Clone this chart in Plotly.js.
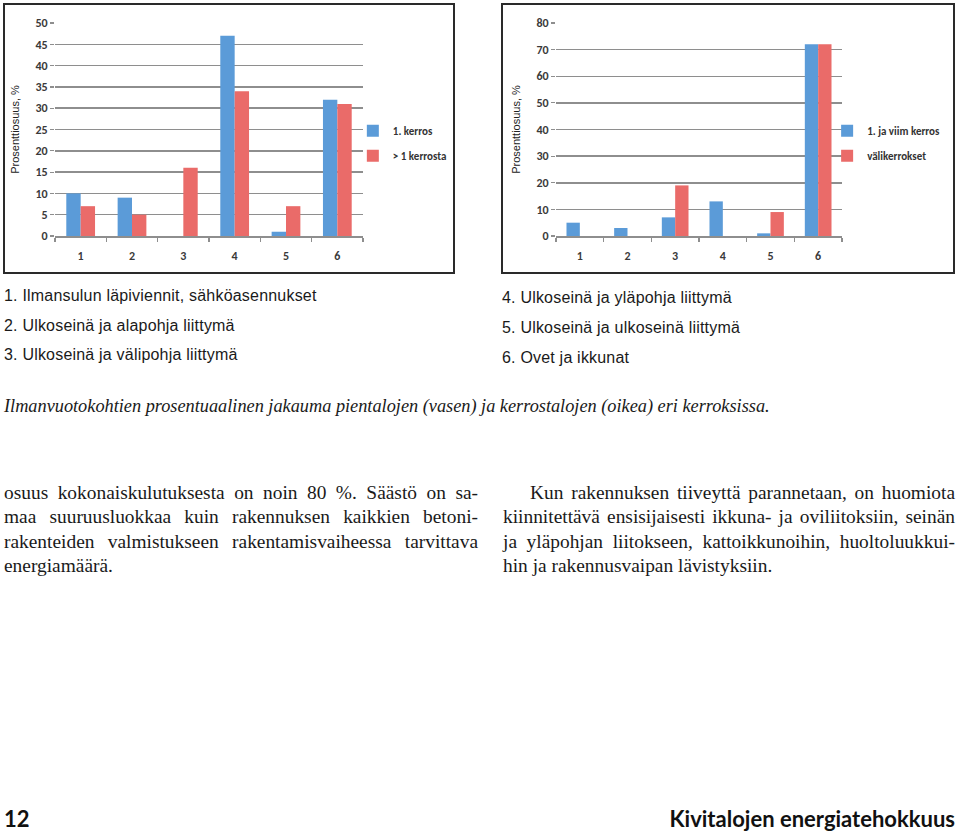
<!DOCTYPE html>
<html>
<head>
<meta charset="utf-8">
<script src="https://cdn.plot.ly/plotly-3.0.1.min.js"></script>
<style>
  html, body { margin: 0; padding: 0; background: #fff; }
  body { width: 960px; height: 833px; position: relative; overflow: hidden; }
  .frame { position: absolute; box-sizing: border-box; border: 2px solid #2a2a2a; background: #fff; overflow: hidden; }
  .plot { position: absolute; left: 0; top: 0; }
  .lst { position: absolute; font-family: "Liberation Sans", Arial, sans-serif; font-size: 16px; letter-spacing: 0.2px; color: #1a1a1a; white-space: nowrap; }
  .cap { position: absolute; left: 4px; top: 396px; font-family: "Liberation Serif", "DejaVu Serif", serif; font-style: italic; font-size: 18.3px; color: #1a1a1a; white-space: nowrap; }
  .col { position: absolute; line-height: 24.3px; }
  .col div { font-family: "Liberation Serif", "DejaVu Serif", serif !important; font-size: 19.4px; color: #1a1a1a; text-align: justify; text-align-last: justify; white-space: nowrap; }
  .col div.last { text-align-last: left; }
  .foot { position: absolute; top: 805px; font-family: Lato, "DejaVu Sans", sans-serif; font-weight: 700; font-size: 22px; color: #111; white-space: nowrap; }
</style>
</head>
<body>
<div class="frame" style="left:3px;top:3px;width:452px;height:271px;"><div id="c1" class="plot"></div></div>
<div class="frame" style="left:501px;top:3px;width:454px;height:271px;"><div id="c2" class="plot"></div></div>

<div class="lst" style="left:4px;top:287px;">1. Ilmansulun läpiviennit, sähköasennukset</div>
<div class="lst" style="left:4px;top:317px;">2. Ulkoseinä ja alapohja liittymä</div>
<div class="lst" style="left:4px;top:346px;">3. Ulkoseinä ja välipohja liittymä</div>
<div class="lst" style="left:502px;top:289px;">4. Ulkoseinä ja yläpohja liittymä</div>
<div class="lst" style="left:502px;top:319px;">5. Ulkoseinä ja ulkoseinä liittymä</div>
<div class="lst" style="left:502px;top:349px;">6. Ovet ja ikkunat</div>

<div class="cap">Ilmanvuotokohtien prosentuaalinen jakauma pientalojen (vasen) ja kerrostalojen (oikea) eri kerroksissa.</div>

<div class="col" style="left:4px;top:481px;width:474px;">
  <div>osuus kokonaiskulutuksesta on noin 80 %. Säästö on sa-</div>
  <div>maa suuruusluokkaa kuin rakennuksen kaikkien betoni-</div>
  <div>rakenteiden valmistukseen rakentamisvaiheessa tarvittava</div>
  <div class="last">energiamäärä.</div>
</div>
<div class="col" style="left:503px;top:481px;width:452px;">
  <div style="padding-left:27px;">Kun rakennuksen tiiveyttä parannetaan, on huomiota</div>
  <div>kiinnitettävä ensisijaisesti ikkuna- ja oviliitoksiin, seinän</div>
  <div>ja yläpohjan liitokseen, kattoikkunoihin, huoltoluukkui-</div>
  <div class="last">hin ja rakennusvaipan lävistyksiin.</div>
</div>

<div class="foot" style="left:4px;">12</div>
<div class="foot" style="right:5px;">Kivitalojen energiatehokkuus</div>

<script>
// ---- data ----
const categories = ["1", "2", "3", "4", "5", "6"];

const leftSeriesNames = ["1. kerros", "> 1 kerrosta"];
const leftFirstFloor = [10, 9, 0, 47, 1, 32];
const leftUpperFloors = [7, 5, 16, 34, 7, 31];
const leftTicks = [0, 5, 10, 15, 20, 25, 30, 35, 40, 45, 50];

const rightSeriesNames = ["1. ja viim kerros", "välikerrokset"];
const rightFirstLastFloor = [5, 3, 7, 13, 1, 72];
const rightMiddleFloors = [0, 0, 19, 0, 9, 72];
const rightTicks = [0, 10, 20, 30, 40, 50, 60, 70, 80];

const yTitle = "Prosenttiosuus, %";

// ---- styling ----
const BLUE = "#5b9bd8";
const RED = "#ea6b69";
const GRID = "#8e8e8e";
const tickFont = { family: "Carlito, 'Liberation Sans Narrow', Roboto, sans-serif", size: 12, color: "#3a3a3a", weight: 700 };
const legendFont = { family: "Carlito, 'Liberation Sans Narrow', Roboto, sans-serif", size: 11, color: "#333", weight: 700 };

function makeChart(id, names, a, b, ticks, w, h, margin, legendX) {
  const traces = [
    { type: "bar", x: categories, y: a, name: names[0], marker: { color: BLUE }, legendgroup: "a", hoverinfo: "x+y" },
    { type: "bar", x: categories, y: b, name: names[1], marker: { color: RED }, legendgroup: "b", hoverinfo: "x+y" }
  ];
  const layout = {
    width: w, height: h,
    margin: Object.assign({ autoexpand: false }, margin),
    paper_bgcolor: "#fff", plot_bgcolor: "#fff",
    barmode: "group", bargap: 0.44, bargroupgap: 0,
    showlegend: true,
    legend: { x: legendX, xanchor: "left", y: 0.435, yanchor: "middle", font: legendFont,
              tracegroupgap: 6, traceorder: "grouped", bgcolor: "rgba(0,0,0,0)" },
    xaxis: {
      type: "category", categoryarray: categories, tickfont: tickFont,
      showline: true, linecolor: GRID, linewidth: 1.5,
      ticks: "outside", tickson: "boundaries", ticklen: 4, tickcolor: GRID, tickwidth: 1.2,
      showgrid: false, zeroline: false, fixedrange: true, ticklabelstandoff: 8, automargin: false
    },
    yaxis: {
      range: [0, ticks[ticks.length - 1]], tickvals: ticks, ticktext: ticks.map(String), tickfont: tickFont,
      showgrid: true, gridcolor: GRID, gridwidth: 1.5, zeroline: false,
      showline: false, ticks: "outside", ticklen: 4, tickcolor: GRID, tickwidth: 1.2,
      title: { text: yTitle, font: { family: "'Liberation Sans', Arial, sans-serif", size: 11, color: "#222" }, standoff: 13 },
      fixedrange: true, automargin: false
    }
  };
  Plotly.newPlot(id, traces, layout, { displayModeBar: false, staticPlot: true });
}

makeChart("c1", leftSeriesNames, leftFirstFloor, leftUpperFloors, leftTicks, 480, 267,
          { l: 50, r: 122, t: 18, b: 36 }, 0.967);
makeChart("c2", rightSeriesNames, rightFirstLastFloor, rightMiddleFloors, rightTicks, 480, 267,
          { l: 53, r: 141, t: 18, b: 36 }, 0.948);
</script>
</body>
</html>
